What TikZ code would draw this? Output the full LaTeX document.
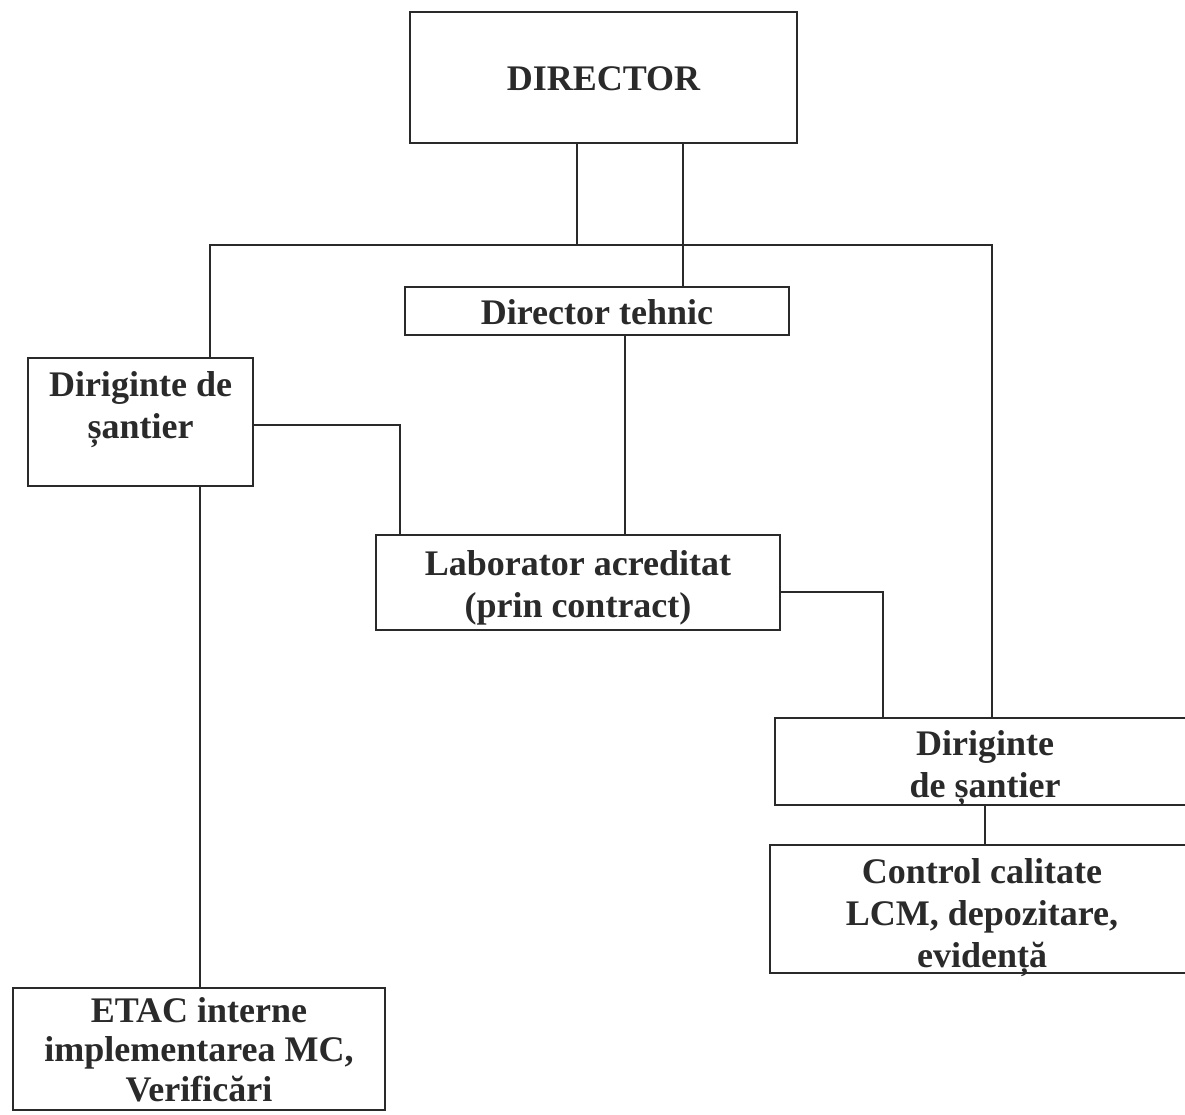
\documentclass[tikz,border=0pt]{standalone}
\usepackage{fontspec}
\setmainfont{Liberation Serif}
\definecolor{ink}{HTML}{2A2A2A}
\newcommand{\txt}[2][0pt]{\raisebox{-#1}[\height][\depth]{\begin{tabular}{@{}c@{}}#2\end{tabular}}}
\begin{document}
\begin{tikzpicture}[x=1pt,y=-1pt,
  box/.style={draw=ink, line width=1.3pt, inner sep=0pt, align=center,
    text=ink, font=\fontsize{36}{42}\selectfont\bfseries},
  conn/.style={draw=ink, line width=1.3pt}]
\useasboundingbox[fill=white] (0,0) rectangle (1185,1115);
\node[box, minimum width=387pt, minimum height=131pt] (dir) at (603.5,77.5) {\txt[5pt]{DIRECTOR}};
\node[box, minimum width=384pt, minimum height=48pt] (tehnic) at (597,311) {\txt[5pt]{Director tehnic}};
\node[box, minimum width=225pt, minimum height=128pt] (dl) at (140.5,422) {\txt[-13pt]{Diriginte de\\șantier}};
\node[box, minimum width=404pt, minimum height=95pt] (lab) at (578,582.5) {\txt[6pt]{Laborator acreditat\\(prin contract)}};
\node[box, minimum width=420pt, minimum height=87pt] (dr) at (985,761.5) {\txt[7pt]{Diriginte\\de șantier}};
\node[box, minimum width=424pt, minimum height=128pt] (cc) at (982,909) {\txt[8pt]{Control calitate\\LCM, depozitare,\\evidență}};
\node[box, minimum width=372pt, minimum height=122pt] (etac) at (199,1049) {\renewcommand{\arraystretch}{0.94}\txt[5pt]{ETAC interne\\implementarea MC,\\Verificări}};
\coordinate (busL) at (210,245);
\coordinate (busR) at (992,245);
\coordinate (j1) at (577,245);
\coordinate (t1) at (683,0);
\coordinate (k) at (625,0);
\coordinate (m) at (400,425);
\coordinate (n) at (883,592);
\coordinate (p) at (200,0);
\coordinate (q) at (985,0);
\draw[conn] (j1 |- dir.south) -- (j1);
\draw[conn] (t1 |- dir.south) -- (t1 |- tehnic.north);
\draw[conn] (busL |- dl.north) -- (busL) -- (busR) -- (busR |- dr.north);
\draw[conn] (k |- tehnic.south) -- (k |- lab.north);
\draw[conn] (m -| dl.east) -- (m) -- (m |- lab.north);
\draw[conn] (n -| lab.east) -- (n) -- (n |- dr.north);
\draw[conn] (p |- dl.south) -- (p |- etac.north);
\draw[conn] (q |- dr.south) -- (q |- cc.north);
\end{tikzpicture}
\end{document}
